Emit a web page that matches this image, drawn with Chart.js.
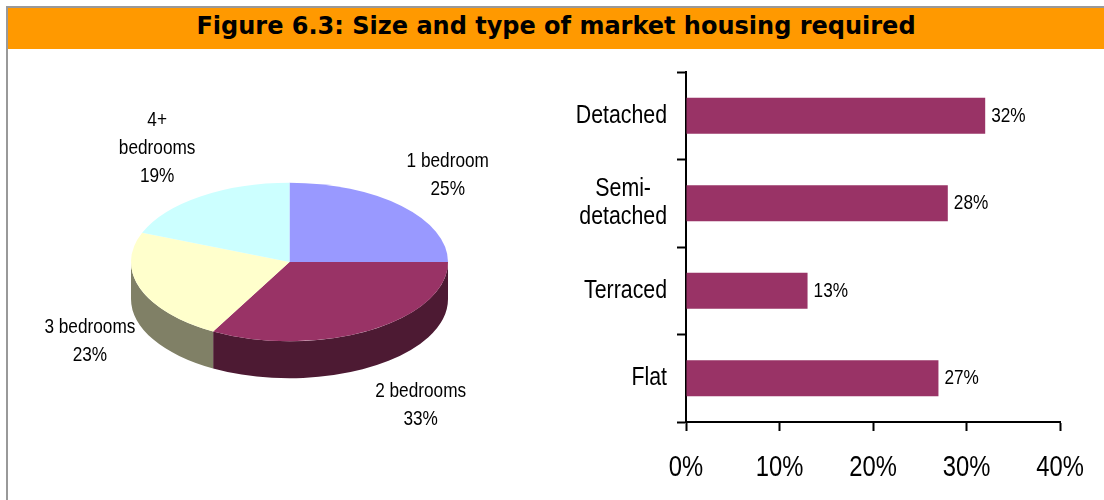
<!doctype html>
<html lang="en">
  <head>
    <meta charset="UTF-8" />
    <title>Figure 6.3</title>
    <style>
      body { margin: 0; width: 1104px; height: 500px; background: #fff; position: relative; overflow: hidden; }
      #frame { position: absolute; left: 6px; top: 6px; right: 0; bottom: 0; border-top: 2px solid #999; border-left: 2px solid #999; }
      #title {
        position: absolute; left: 8px; top: 8px; width: 1096px; height: 37px; padding-top: 4px;
        background: #ff9900; color: #000; text-align: center; line-height: 37px;
        font: bold 24px "DejaVu Sans", Verdana, sans-serif;
      }
      #pieBox { position: absolute; left: 0; top: 50px; width: 560px; height: 450px; }
      #barBox { position: absolute; left: 560px; top: 50px; width: 544px; height: 450px; }
    </style>
  </head>

  <body>
    <div id="frame"></div>
    <div id="title">Figure 6.3: Size and type of market housing required</div>
    <div id="pieBox"><canvas id="pie"></canvas></div>
    <div id="barBox"><canvas id="bar"></canvas></div>

    <script src="https://cdn.jsdelivr.net/npm/chart.js@4"></script>

    <script>
      // pie: size of market housing
      const sizeLabels = ['1 bedroom', '2 bedrooms', '3 bedrooms', '4+ bedrooms']
      const sizeValues = [25, 33, 23, 19]
      const sizeColors = ['#9999ff', '#993366', '#ffffcc', '#ccffff']

      // bars: type of market housing
      const typeLabels = ['Detached', 'Semi-detached', 'Terraced', 'Flat']
      const typeValues = [32, 28, 13, 27]
      const xTicks = [0, 10, 20, 30, 40]

      const FONT = '"Liberation Sans", Arial, sans-serif'
      const SX = 0.82 // squeeze text like Arial Narrow
      const TILT = 0.5
      const DEPTH = 37

      const darken = (hex, f) => {
        const n = parseInt(hex.slice(1), 16)
        const c = [(n >> 16) & 255, (n >> 8) & 255, n & 255].map((v) => Math.round(v * f))
        return `rgb(${c[0]}, ${c[1]}, ${c[2]})`
      }

      const textWidth = (ctx, t) => ctx.measureText(t).width * SX

      function narrowText(ctx, t, x, y, align) {
        ctx.save()
        ctx.translate(x, y)
        ctx.scale(SX, 1)
        ctx.textAlign = align
        ctx.fillText(t, 0, 0)
        ctx.restore()
      }

      // wrap "4+ bedrooms" -> ["4+", "bedrooms"], keep others on one line
      const pieLines = (label) => (label.startsWith('4+') ? label.split(' ') : [label])

      const pie3d = {
        id: 'pie3d',
        beforeDatasetsDraw(chart) {
          const ctx = chart.ctx
          const arcs = chart.getDatasetMeta(0).data
          const cx = arcs[0].x
          const cy = arcs[0].y
          const r = arcs[0].outerRadius
          const ry = r * TILT
          // side walls, only the front half (0..PI) shows
          arcs.forEach((arc, i) => {
            const a1 = Math.max(arc.startAngle, 0)
            const a2 = Math.min(arc.endAngle, Math.PI)
            if (a2 <= a1) return
            ctx.beginPath()
            ctx.ellipse(cx, cy, r, ry, 0, a1, a2)
            ctx.ellipse(cx, cy + DEPTH, r, ry, 0, a2, a1, true)
            ctx.closePath()
            ctx.fillStyle = darken(sizeColors[i], 0.5)
            ctx.fill()
          })
          ctx.save()
          ctx.translate(cx, cy)
          ctx.scale(1, TILT)
          ctx.translate(-cx, -cy)
        },
        afterDatasetsDraw(chart) {
          chart.ctx.restore()
        },
        afterDraw(chart) {
          const ctx = chart.ctx
          const arcs = chart.getDatasetMeta(0).data
          ctx.save()
          ctx.font = `21px ${FONT}`
          ctx.fillStyle = '#000'
          ctx.textBaseline = 'middle'
          const lh = 28
          arcs.forEach((arc, i) => {
            const mid = (arc.startAngle + arc.endAngle) / 2
            const cos = Math.cos(mid)
            const sin = Math.sin(mid)
            const lines = [...pieLines(sizeLabels[i]), sizeValues[i] + '%']
            const w = Math.max(...lines.map((l) => textWidth(ctx, l)))
            const h = lines.length * lh
            // point on the rim (bottom of the wall for the front half)
            const ex = arc.x + arc.outerRadius * cos
            const ey = arc.y + arc.outerRadius * TILT * sin + (sin > 0 ? DEPTH : 0)
            const bx = ex + Math.sign(cos) * (w / 2 + 5)
            const by = ey + sin * (h / 2 + 16)
            lines.forEach((l, k) => {
              narrowText(ctx, l, bx, by - h / 2 + lh / 2 + k * lh, 'center')
            })
          })
          ctx.restore()
        },
      }

      const barLabels = {
        id: 'barLabels',
        afterDatasetsDraw(chart) {
          const ctx = chart.ctx
          ctx.save()
          ctx.font = `21px ${FONT}`
          ctx.fillStyle = '#000'
          ctx.textBaseline = 'middle'
          chart.getDatasetMeta(0).data.forEach((bar, i) => {
            narrowText(ctx, typeValues[i] + '%', bar.x + 6, bar.y, 'left')
          })
          ctx.restore()
        },
        afterDraw(chart) {
          const ctx = chart.ctx
          const y = chart.scales.y
          const x = chart.scales.x
          ctx.save()
          ctx.fillStyle = '#000'
          // category names, multi-line ones centred on each other
          ctx.font = `26px ${FONT}`
          ctx.textBaseline = 'middle'
          const right = y.right - 9 - 10
          const lh = 28
          typeLabels.forEach((label, i) => {
            const cut = label.indexOf('-')
            const lines = cut > 0 ? [label.slice(0, cut + 1), label.slice(cut + 1)] : [label]
            const w = Math.max(...lines.map((l) => textWidth(ctx, l)))
            const py = y.getPixelForTick(i)
            lines.forEach((l, k) => {
              narrowText(ctx, l, right - w / 2, py - ((lines.length - 1) * lh) / 2 + k * lh, 'center')
            })
          })
          // value axis labels
          ctx.font = `29px ${FONT}`
          ctx.textBaseline = 'alphabetic'
          xTicks.forEach((v) => {
            narrowText(ctx, v + '%', x.getPixelForValue(v), x.top + 54, 'center')
          })
          ctx.restore()
        },
      }

      function draw() {
        Chart.defaults.font.family = FONT
        Chart.defaults.color = '#000'

        new Chart(document.getElementById('pie'), {
          type: 'pie',
          data: {
            labels: sizeLabels,
            datasets: [{ data: sizeValues, backgroundColor: sizeColors, borderWidth: 0 }],
          },
          options: {
            responsive: true,
            maintainAspectRatio: false,
            animation: false,
            events: [],
            layout: { padding: { left: 131, right: 112, top: 53.5, bottom: 79.5 } },
            plugins: { legend: { display: false }, tooltip: { enabled: false } },
          },
          plugins: [pie3d],
        })

        new Chart(document.getElementById('bar'), {
          type: 'bar',
          data: {
            labels: typeLabels,
            datasets: [
              {
                data: typeValues,
                backgroundColor: '#993366',
                barPercentage: 0.41,
                categoryPercentage: 1,
              },
            ],
          },
          options: {
            indexAxis: 'y',
            responsive: true,
            maintainAspectRatio: false,
            animation: false,
            events: [],
            layout: { padding: { top: 19, right: 44, left: 0, bottom: 0 } },
            plugins: { legend: { display: false }, tooltip: { enabled: false } },
            scales: {
              x: {
                min: 0,
                max: 40,
                afterBuildTicks: (s) => {
                  s.ticks = xTicks.map((v) => ({ value: v }))
                },
                afterFit: (s) => {
                  s.height = 78
                },
                ticks: {
                  callback: (v) => v + '%',
                  color: 'rgba(0,0,0,0)',
                  font: { size: 20 },
                  padding: 8,
                  maxRotation: 0,
                },
                grid: {
                  drawOnChartArea: false,
                  drawTicks: true,
                  tickLength: 9,
                  tickWidth: 2,
                  color: '#000',
                },
                border: { display: true, color: '#000', width: 2 },
              },
              y: {
                afterFit: (s) => {
                  s.width = 126
                },
                ticks: { color: 'rgba(0,0,0,0)', font: { size: 20 }, padding: 10 },
                grid: {
                  offset: true,
                  drawOnChartArea: false,
                  drawTicks: true,
                  tickLength: 9,
                  tickWidth: 2,
                  color: '#000',
                },
                border: { display: true, color: '#000', width: 2 },
              },
            },
          },
          plugins: [barLabels],
        })
      }

      Promise.all([
        document.fonts.load(`21px ${FONT}`),
        document.fonts.load('bold 24px "DejaVu Sans"'),
      ]).then(draw, draw)
    </script>
  </body>
</html>
